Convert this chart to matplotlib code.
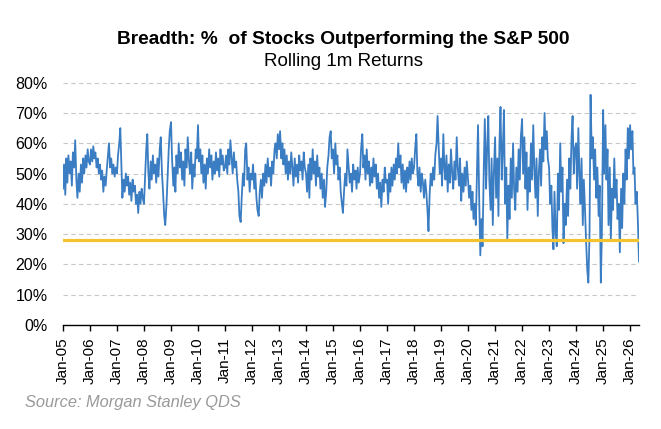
import numpy as np
import pandas as pd
import matplotlib
matplotlib.use("Agg")
import matplotlib.pyplot as plt
import matplotlib.dates as mdates

plt.rcParams['font.family'] = ['Liberation Sans', 'DejaVu Sans']

# % of stocks beating the S&P 500 (rolling 1m), ~2 points a month
y2005 = [45, 53, 43, 55, 47, 56, 50, 54, 46, 57, 52, 61, 48, 42, 50, 44, 53, 47, 55, 50, 56, 52, 58, 54]
y2006 = [53, 58, 54, 59, 55, 57, 52, 55, 50, 53, 48, 51, 44, 49, 46, 51, 56, 60, 52, 55, 50, 53, 49, 52]
y2007 = [50, 56, 60, 65, 54, 42, 48, 44, 50, 46, 49, 43, 47, 41, 48, 44, 46, 40, 43, 37, 44, 40, 45, 42]
y2008 = [40, 48, 58, 63, 50, 45, 54, 48, 56, 50, 53, 47, 55, 49, 58, 62, 50, 44, 36, 33, 40, 48, 58, 64]
y2009 = [67, 55, 46, 52, 44, 56, 50, 60, 52, 57, 48, 54, 46, 58, 52, 62, 54, 50, 57, 45, 53, 49, 58, 55]
y2010 = [66, 54, 58, 50, 56, 47, 53, 45, 55, 50, 58, 52, 56, 48, 54, 50, 57, 51, 55, 49, 58, 53, 56, 51]
y2011 = [52, 56, 50, 58, 53, 61, 55, 50, 57, 52, 54, 48, 44, 36, 34, 42, 50, 46, 58, 60, 48, 52, 44, 50]
y2012 = [48, 53, 45, 50, 42, 38, 36, 44, 48, 42, 50, 46, 53, 47, 55, 49, 52, 46, 54, 50, 58, 60, 55, 63]
y2013 = [58, 64, 55, 60, 53, 58, 50, 56, 48, 54, 50, 57, 52, 46, 55, 49, 53, 47, 56, 51, 54, 48, 57, 52]
y2014 = [50, 44, 53, 42, 55, 48, 58, 50, 54, 46, 56, 49, 52, 45, 50, 42, 48, 39, 44, 52, 56, 62, 64, 55]
y2015 = [58, 50, 60, 53, 56, 48, 52, 44, 40, 37, 45, 50, 46, 58, 52, 47, 50, 44, 53, 48, 51, 45, 52, 47]
y2016 = [50, 58, 63, 52, 56, 48, 58, 50, 54, 46, 52, 47, 55, 49, 53, 45, 50, 42, 47, 39, 48, 44, 52, 47]
y2017 = [48, 40, 50, 44, 52, 46, 53, 48, 55, 50, 60, 52, 56, 47, 53, 45, 51, 44, 52, 47, 54, 48, 55, 50]
y2018 = [52, 58, 63, 50, 46, 52, 44, 50, 47, 42, 48, 44, 38, 31, 44, 50, 46, 52, 48, 56, 60, 69, 58, 50]
y2019 = [55, 46, 63, 52, 48, 56, 44, 53, 47, 58, 50, 45, 54, 48, 62, 52, 46, 55, 41, 50, 44, 52, 46, 54]
y2020 = [48, 42, 46, 38, 44, 35, 40, 33, 50, 66, 40, 23, 35, 26, 52, 68, 45, 58, 69, 48, 38, 55, 33, 50]
y2021 = [62, 42, 55, 36, 60, 72, 48, 58, 71, 40, 52, 28, 46, 35, 55, 42, 60, 45, 38, 52, 44, 58, 48, 62]
y2022 = [68, 50, 62, 45, 57, 38, 52, 44, 60, 48, 66, 52, 42, 55, 36, 50, 58, 46, 62, 54, 70, 58, 64, 55]
y2023 = [52, 40, 46, 32, 25, 44, 30, 26, 50, 38, 60, 44, 52, 27, 40, 33, 48, 36, 55, 45, 62, 69, 50, 58]
y2024 = [60, 45, 65, 50, 40, 55, 33, 48, 38, 28, 18, 14, 30, 76, 55, 62, 48, 58, 42, 52, 36, 46, 14, 30]
y2025 = [71, 50, 66, 48, 58, 33, 52, 28, 45, 38, 55, 42, 48, 35, 40, 24, 45, 32, 50, 40, 58, 48, 65, 55]
y2026 = [66, 58, 64, 50, 52, 40, 44, 35, 21]

threshold = 28  # yellow line

breadth = np.array(y2005 + y2006 + y2007 + y2008 + y2009 + y2010 + y2011 +
                   y2012 + y2013 + y2014 + y2015 + y2016 + y2017 + y2018 +
                   y2019 + y2020 + y2021 + y2022 + y2023 + y2024 + y2025 + y2026)
dates = pd.date_range('2005-01-01', periods=len(breadth), freq='SMS')

fig = plt.figure(figsize=(6.61, 4.29), dpi=100)
ax = fig.add_axes([0.0953, 0.2424, 0.8714, 0.5648])

ax.plot(dates, breadth, color='#3B7DC3', linewidth=1.3, zorder=3)
ax.axhline(threshold, color='#F4C430', linewidth=2.3, zorder=4)

ax.set_ylim(0, 80)
ax.set_xlim(dates[0], dates[-1])
ax.set_yticks(range(0, 81, 10))
ax.set_yticklabels([f'{v}%' for v in range(0, 81, 10)])
ax.grid(axis='y', color='#C8C8C8', linestyle=(0, (4, 3)), linewidth=0.8)
ax.set_axisbelow(True)

ax.xaxis.set_major_locator(mdates.YearLocator())
ax.xaxis.set_major_formatter(mdates.DateFormatter('%b-%y'))
plt.setp(ax.get_xticklabels(), rotation=90, fontsize=11)
ax.tick_params(axis='x', length=4, width=1, direction='out', pad=5)
ax.tick_params(axis='y', length=0, pad=11, labelsize=11.5)

for side in ['left', 'right', 'top']:
    ax.spines[side].set_visible(False)
ax.spines['bottom'].set_color('black')
ax.spines['bottom'].set_linewidth(1.0)

fig.text(343 / 661, 1 - 40 / 429, 'Breadth: %  of Stocks Outperforming the S&P 500',
         ha='center', va='center', fontsize=13.8, fontweight='bold')
fig.text(343 / 661, 1 - 62 / 429, 'Rolling 1m Returns', ha='center', va='center', fontsize=13.5)
fig.text(25 / 661, 1 - 403 / 429, 'Source: Morgan Stanley QDS', ha='left', va='center',
         fontsize=11.8, style='italic', color='#9A9A9A')

fig.savefig('out.png', dpi=100)
